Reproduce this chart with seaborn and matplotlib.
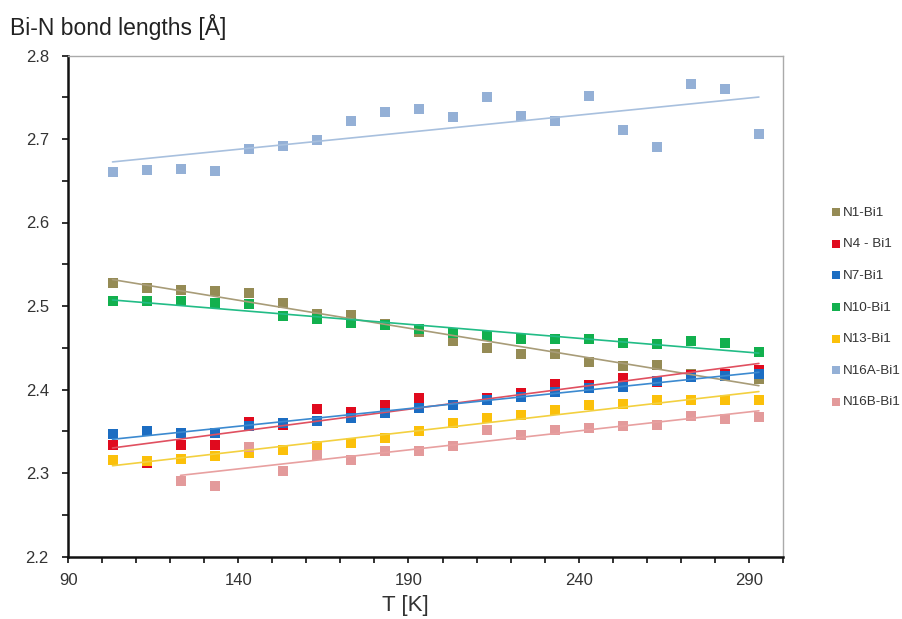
import matplotlib
matplotlib.use("Agg")
import matplotlib.pyplot as plt
from matplotlib.ticker import MultipleLocator
import seaborn as sns
import pandas as pd

# ---------------- data ----------------
temps = [103, 113, 123, 133, 143, 153, 163, 173, 183, 193,
         203, 213, 223, 233, 243, 253, 263, 273, 283, 293]
temps_16b = temps[2:]

n1_bi1 = [2.527, 2.522, 2.519, 2.518, 2.515, 2.504, 2.491, 2.489, 2.478, 2.469,
          2.458, 2.450, 2.442, 2.442, 2.433, 2.428, 2.429, 2.419, 2.416, 2.413]
n4_bi1 = [2.334, 2.312, 2.333, 2.333, 2.361, 2.358, 2.377, 2.373, 2.381, 2.390,
          2.382, 2.390, 2.396, 2.406, 2.405, 2.414, 2.409, 2.417, 2.418, 2.423]
n7_bi1 = [2.347, 2.350, 2.348, 2.348, 2.356, 2.360, 2.362, 2.366, 2.372, 2.378,
          2.382, 2.388, 2.391, 2.397, 2.402, 2.403, 2.410, 2.415, 2.416, 2.419]
n10_bi1 = [2.506, 2.506, 2.506, 2.504, 2.502, 2.488, 2.485, 2.480, 2.477, 2.473,
           2.468, 2.464, 2.460, 2.460, 2.460, 2.456, 2.454, 2.458, 2.456, 2.445]
n13_bi1 = [2.316, 2.314, 2.317, 2.320, 2.324, 2.327, 2.332, 2.336, 2.342, 2.350,
           2.360, 2.366, 2.369, 2.375, 2.382, 2.383, 2.387, 2.388, 2.387, 2.387]
n16a_bi1 = [2.660, 2.663, 2.664, 2.662, 2.688, 2.692, 2.699, 2.722, 2.732, 2.736,
            2.726, 2.750, 2.728, 2.721, 2.752, 2.711, 2.690, 2.766, 2.760, 2.706]
n16b_bi1 = [2.290, 2.284, 2.331, 2.302, 2.322, 2.315, 2.326, 2.326, 2.332,
            2.352, 2.346, 2.351, 2.354, 2.356, 2.358, 2.368, 2.365, 2.367]

labels = ["N1-Bi1", "N4 - Bi1", "N7-Bi1", "N10-Bi1", "N13-Bi1", "N16A-Bi1", "N16B-Bi1"]
marker_colors = ["#958B55", "#E00A1E", "#1C6DC2", "#12B04E", "#FBC00A", "#94B0D6", "#E39A9B"]
line_colors = ["#A89C78", "#E05060", "#3C8AD0", "#22BC86", "#F3D040", "#A8C0DE", "#E8A0A0"]

xtick_values = [90, 140, 190, 240, 290]

xs = [temps, temps, temps, temps, temps, temps, temps_16b]
ys = [n1_bi1, n4_bi1, n7_bi1, n10_bi1, n13_bi1, n16a_bi1, n16b_bi1]

# ---------------- plot ----------------
sns.set_theme(style="white")
plt.rcParams["font.family"] = ["Liberation Sans", "DejaVu Sans"]

fig = plt.figure(figsize=(9.03, 6.19), dpi=100)
ax = fig.add_axes([68.3 / 903, 1 - 556.5 / 619, (782.7 - 68.3) / 903, (556.5 - 55.5) / 619])

for x, y, lab, mc, lc in zip(xs, ys, labels, marker_colors, line_colors):
    df = pd.DataFrame({"T": x, "d": y})
    sns.regplot(data=df, x="T", y="d", ax=ax, ci=None, marker="s", label=lab,
                scatter_kws=dict(s=50, color=mc, linewidths=0, alpha=1, zorder=3),
                line_kws=dict(color=lc, lw=1.2, zorder=4))

ax.set_xlim(90, 300)
ax.set_ylim(2.2, 2.8)
ax.xaxis.set_minor_locator(MultipleLocator(10))
ax.yaxis.set_major_locator(MultipleLocator(0.1))
ax.yaxis.set_minor_locator(MultipleLocator(0.05))
ax.set_xticks(xtick_values)
ax.set_xticklabels([str(v) for v in xtick_values])
ax.yaxis.set_major_formatter(plt.FuncFormatter(lambda v, p: f"{v:.1f}"))

ax.tick_params(axis="both", which="both", direction="out", colors="#222222",
               bottom=True, left=True, top=False, right=False,
               labelsize=12, labelcolor="#333333", length=4, width=1.3)
ax.tick_params(axis="x", which="major", pad=8)
ax.tick_params(axis="y", which="major", pad=10)

for side in ["left", "bottom"]:
    ax.spines[side].set_color("#111111")
    ax.spines[side].set_linewidth(1.8)
for side in ["top", "right"]:
    ax.spines[side].set_color("#AAAAAA")
    ax.spines[side].set_linewidth(1.0)

ax.set_xlabel("")
ax.set_ylabel("")
fig.text(405 / 903, 1 - 606 / 619, "T [K]", fontsize=16, color="#333333",
         ha="center", va="center")
fig.text(10 / 903, 1 - 35 / 619, "Bi-N bond lengths [Å]", fontsize=16.5,
         color="#222222", va="baseline", ha="left")

leg = ax.legend(loc="upper left", bbox_to_anchor=(826 / 903, 1 - 201 / 619),
                bbox_transform=fig.transFigure, frameon=False, fontsize=9.7,
                labelspacing=1.42, handlelength=0.7, handletextpad=0.15,
                markerscale=0.9, borderaxespad=0)
for t in leg.get_texts():
    t.set_color("#333333")

fig.savefig("out.png", dpi=100)
